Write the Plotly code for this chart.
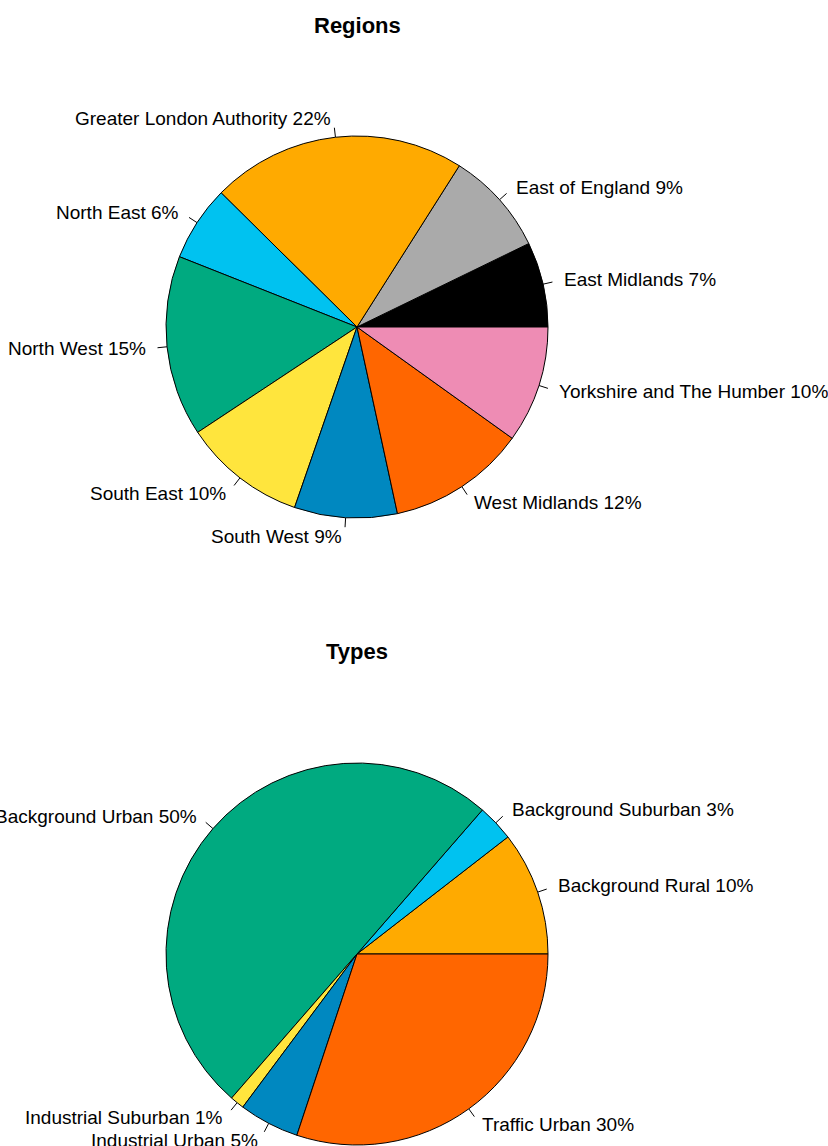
import numpy as np
import plotly.graph_objects as go

W, H = 828, 1146

# ---- data ----
region_names = ["East Midlands", "East of England", "Greater London Authority", "North East",
                "North West", "South East", "South West", "West Midlands", "Yorkshire and The Humber"]
region_values = [7.2, 8.8, 21.6, 6.4, 15.3, 10.4, 8.7, 11.7, 9.9]
region_colors = ["#000000", "#AAAAAA", "#FFAA00", "#00C2F0", "#00AA80",
                 "#FFE53D", "#0088C0", "#FF6600", "#EE8CB4"]

type_names = ["Background Rural", "Background Suburban", "Background Urban",
              "Industrial Suburban", "Industrial Urban", "Traffic Urban"]
type_values = [10.5, 3.1, 50.0, 1.2, 5.1, 30.1]
type_colors = ["#FFAA00", "#00C2F0", "#00AA80", "#FFE53D", "#0088C0", "#FF6600"]

FONT = "Liberation Sans, Arial, sans-serif"

fig = go.Figure()


def add_pie(names, values, colors, cx, cy, R, title, ty):
    vals = np.array(values, dtype=float)
    frac = vals / vals.sum()
    # plotly's counterclockwise pies end the first slice at `rotation`,
    # so shift by the first slice so it starts at 3 o'clock
    rot = 90 - frac[0] * 360
    fig.add_trace(go.Pie(
        labels=names, values=vals, sort=False, direction="counterclockwise",
        rotation=rot, textinfo="none", hoverinfo="label+percent",
        marker=dict(colors=colors, line=dict(color="black", width=1)),
        domain=dict(x=[(cx - R) / W, (cx + R) / W], y=[1 - (cy + R) / H, 1 - (cy - R) / H]),
        showlegend=False,
    ))
    starts = np.concatenate([[0], np.cumsum(frac)[:-1]])
    mids = (starts + frac / 2) * 2 * np.pi
    for name, f, a in zip(names, frac, mids):
        c, s = np.cos(a), np.sin(a)
        fig.add_trace(go.Scatter(
            x=[cx + R * c, cx + 1.05 * R * c], y=[cy - R * s, cy - 1.05 * R * s],
            mode="lines", line=dict(color="black", width=1), hoverinfo="skip",
            showlegend=False, xaxis="x", yaxis="y"))
        fig.add_annotation(
            x=cx + 1.1 * R * c, y=cy - 1.1 * R * s, xref="x", yref="y",
            text=f"{name} {round(f * 100):.0f}%", showarrow=False,
            xanchor="right" if c < 0 else "left", yanchor="middle",
            font=dict(family=FONT, size=19, color="black"))
    fig.add_annotation(x=cx, y=ty, xref="x", yref="y", text=f"<b>{title}</b>",
                       showarrow=False, xanchor="center", yanchor="middle",
                       font=dict(family=FONT, size=22, color="black"))


add_pie(region_names, region_values, region_colors, 357, 327, 191, "Regions", 25)
add_pie(type_names, type_values, type_colors, 357, 954, 191, "Types", 651)

fig.update_layout(
    width=W, height=H, margin=dict(l=0, r=0, t=0, b=0),
    paper_bgcolor="white", plot_bgcolor="rgba(0,0,0,0)",
    xaxis=dict(range=[0, W], visible=False, fixedrange=True),
    yaxis=dict(range=[H, 0], visible=False, fixedrange=True),
    font=dict(family=FONT),
)

fig.write_html("out.html", config={"displayModeBar": False},
               post_script="document.body.style.margin='0';document.body.style.overflow='hidden';")
